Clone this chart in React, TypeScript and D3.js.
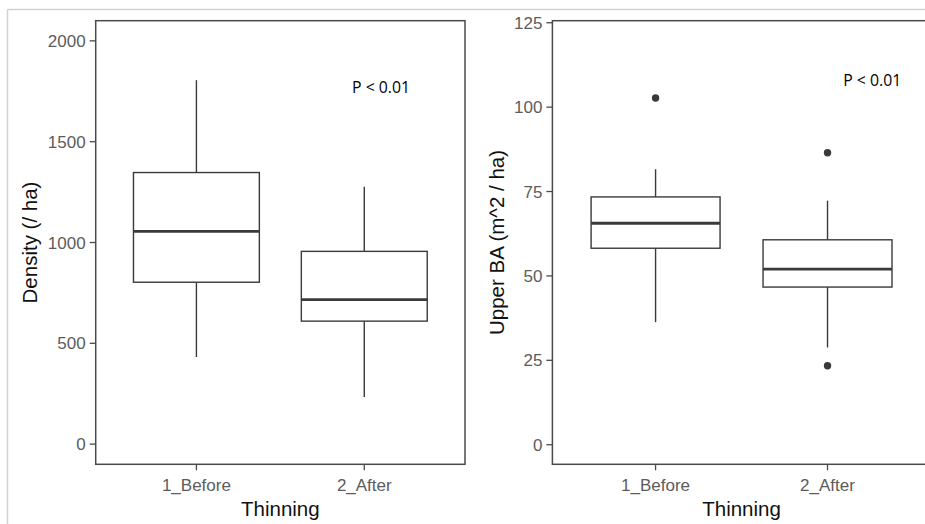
import React from "react";
import * as d3 from "d3";

const categories = ["1_Before", "2_After"];

// Density panel (stems / ha)
const densityLow = [432, 234];
const densityQ1 = [803, 610];
const densityMedian = [1055, 717];
const densityQ3 = [1347, 956];
const densityHigh = [1805, 1277];
const densityOutliers: number[][] = [[], []];
const densityTicks = [0, 500, 1000, 1500, 2000];

// Upper basal area panel (m^2 / ha)
const baLow = [36.3, 28.8];
const baQ1 = [58.2, 46.7];
const baMedian = [65.6, 52.0];
const baQ3 = [73.4, 60.7];
const baHigh = [81.6, 72.3];
const baOutliers = [[102.7], [86.5, 23.4]];
const baTicks = [0, 25, 50, 75, 100, 125];

const W = 925, H = 524;
const tickFont = "Liberation Sans, Arial, sans-serif";

const Panel = ({ left, right, top, bottom, domain, ticks, low, q1, med, q3, high, outliers, yTitle, titleX, pAt }) => {
  const x = d3.scaleLinear().domain([0.4, 2.6]).range([left, right]);
  const y = d3.scaleLinear().domain(domain).range([bottom, top]);
  const bw = 0.75 * (x(2) - x(1));
  const line = "#3a3a3a";

  return (
    <g>
      <rect x={left} y={top} width={right - left} height={bottom - top} fill="none" stroke="#4a4a4a" strokeWidth={1.5} />
      {ticks.map((t) => (
        <g key={t}>
          <line x1={left - 6} x2={left} y1={y(t)} y2={y(t)} stroke="#4a4a4a" strokeWidth={1.3} />
          <text x={left - 10} y={y(t)} dy="0.36em" textAnchor="end" fontSize={17} fill="#5c5c5c" fontFamily={tickFont}>{t}</text>
        </g>
      ))}
      {categories.map((c, i) => {
        const cx = x(i + 1);
        return (
          <g key={c}>
            <line x1={cx} x2={cx} y1={bottom} y2={bottom + 6} stroke="#4a4a4a" strokeWidth={1.3} />
            <text x={cx} y={491} textAnchor="middle" fontSize={17} fill="#5c5c5c" fontFamily={tickFont}>{c}</text>
            <line x1={cx} x2={cx} y1={y(high[i])} y2={y(q3[i])} stroke={line} strokeWidth={1.4} />
            <line x1={cx} x2={cx} y1={y(q1[i])} y2={y(low[i])} stroke={line} strokeWidth={1.4} />
            <rect x={cx - bw / 2} y={y(q3[i])} width={bw} height={y(q1[i]) - y(q3[i])} fill="#fff" stroke={line} strokeWidth={1.4} />
            <line x1={cx - bw / 2} x2={cx + bw / 2} y1={y(med[i])} y2={y(med[i])} stroke={line} strokeWidth={2.8} />
            {outliers[i].map((o, k) => (
              <circle key={k} cx={cx} cy={y(o)} r={3.7} fill={line} />
            ))}
          </g>
        );
      })}
      <text transform={`translate(${titleX},${(top + bottom) / 2}) rotate(-90)`} textAnchor="middle" dy="0.36em" fontSize={20.5} fill="#111" fontFamily={tickFont}>{yTitle}</text>
      <text x={(left + Math.min(right, W)) / 2 + ((right > W) ? (right - W) / 2 : 0)} y={516} textAnchor="middle" fontSize={20.5} fill="#111" fontFamily={tickFont}>Thinning</text>
      <text x={x(pAt[0])} y={y(pAt[1])} dy="0.35em" textAnchor="middle" fontSize={16} fill="#000" fontFamily="Open Sans, sans-serif" textLength={58} lengthAdjust="spacingAndGlyphs">P &lt; 0.01</text>
    </g>
  );
};

export default function App() {
  return (
    <svg width={W} height={H} style={{ position: "absolute", left: 0, top: 0, background: "#fff" }}>
      <rect x={0} y={0} width={W} height={H} fill="#fff" />
      <line x1={7.5} x2={W} y1={9.5} y2={9.5} stroke="#d2d2d2" strokeWidth={1.5} />
      <line x1={7.5} x2={7.5} y1={9.5} y2={H} stroke="#d2d2d2" strokeWidth={1.5} />
      <Panel left={95.7} right={465} top={20.7} bottom={464.3} domain={[-100, 2100]} ticks={densityTicks}
        low={densityLow} q1={densityQ1} med={densityMedian} q3={densityQ3} high={densityHigh} outliers={densityOutliers}
        yTitle="Density (/ ha)" titleX={30} pAt={[2.1, 1770]} />
      <Panel left={552.4} right={930.7} top={20.7} bottom={464.3} domain={[-5.8, 125.6]} ticks={baTicks}
        low={baLow} q1={baQ1} med={baMedian} q3={baQ3} high={baHigh} outliers={baOutliers}
        yTitle="Upper BA (m^2 / ha)" titleX={497} pAt={[2.26, 107.8]} />
    </svg>
  );
}
